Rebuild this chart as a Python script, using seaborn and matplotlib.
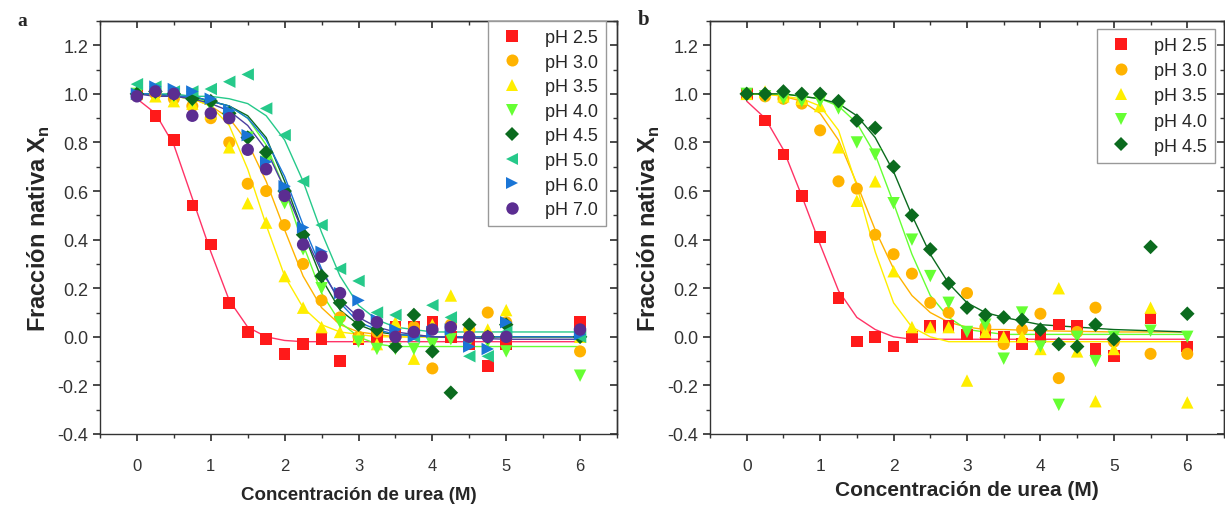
import numpy as np
import pandas as pd
import matplotlib
matplotlib.use('Agg')
import matplotlib.pyplot as plt
from matplotlib.ticker import MultipleLocator, FormatStrFormatter
import seaborn as sns

# urea concentrations (M) of the measured points
urea_a = [0, 0.25, 0.5, 0.75, 1.0, 1.25, 1.5, 1.75, 2.0, 2.25, 2.5, 2.75, 3.0,
          3.25, 3.5, 3.75, 4.0, 4.25, 4.5, 4.75, 5.0, 6.0]
urea_b = [0, 0.25, 0.5, 0.75, 1.0, 1.25, 1.5, 1.75, 2.0, 2.25, 2.5, 2.75, 3.0,
          3.25, 3.5, 3.75, 4.0, 4.25, 4.5, 4.75, 5.0, 5.5, 6.0]
# x grid of the fitted curves
urea_fit = [0, 0.25, 0.5, 0.75, 1.0, 1.25, 1.5, 1.75, 2.0, 2.25, 2.5, 2.75, 3.0,
            3.25, 3.5, 4.0, 5.0, 6.0]

labels_a = ['pH 2.5', 'pH 3.0', 'pH 3.5', 'pH 4.0', 'pH 4.5', 'pH 5.0', 'pH 6.0', 'pH 7.0']
labels_b = ['pH 2.5', 'pH 3.0', 'pH 3.5', 'pH 4.0', 'pH 4.5']

# panel a, fraccion nativa
a_ph25 = [1.0, 0.91, 0.81, 0.54, 0.38, 0.14, 0.02, -0.01, -0.07, -0.03, -0.01, -0.10, -0.01, 0.0, 0.04, 0.04, 0.06, 0.0, -0.03, -0.12, -0.03, 0.06]
a_ph30 = [1.0, 1.0, 0.98, 0.95, 0.90, 0.80, 0.63, 0.60, 0.46, 0.30, 0.15, 0.08, 0.0, 0.02, 0.0, 0.04, -0.13, 0.05, 0.03, 0.10, 0.06, -0.06]
a_ph35 = [1.0, 0.99, 0.97, 0.96, 0.92, 0.78, 0.55, 0.47, 0.25, 0.12, 0.04, 0.02, 0.0, -0.03, 0.06, -0.09, 0.05, 0.17, 0.05, 0.03, 0.11, 0.0]
a_ph40 = [1.0, 1.0, 0.99, 0.97, 0.95, 0.90, 0.82, 0.72, 0.55, 0.36, 0.20, 0.06, -0.02, -0.05, -0.05, -0.05, -0.03, -0.01, -0.02, -0.02, -0.06, -0.16]
a_ph45 = [1.0, 1.01, 1.0, 0.98, 0.97, 0.92, 0.82, 0.76, 0.60, 0.42, 0.25, 0.14, 0.05, 0.03, -0.04, 0.09, -0.06, -0.23, 0.05, 0.0, 0.05, 0.0]
a_ph50 = [1.04, 1.03, 1.01, 1.01, 1.02, 1.05, 1.08, 0.94, 0.83, 0.64, 0.46, 0.28, 0.23, 0.10, 0.09, 0.0, 0.13, 0.08, -0.08, -0.08, 0.02, 0.0]
a_ph60 = [1.0, 1.03, 1.02, 1.01, 0.98, 0.93, 0.83, 0.72, 0.62, 0.45, 0.35, 0.18, 0.15, 0.07, 0.03, 0.0, 0.02, 0.03, -0.04, -0.05, 0.06, 0.01]
a_ph70 = [0.99, 1.01, 1.0, 0.91, 0.92, 0.90, 0.77, 0.69, 0.58, 0.38, 0.33, 0.18, 0.09, 0.06, 0.0, 0.02, 0.03, 0.04, 0.0, 0.0, 0.0, 0.03]

# panel a, curvas ajustadas
fit_a_ph25 = [0.98, 0.92, 0.79, 0.57, 0.35, 0.15, 0.04, 0.0, -0.015, -0.02, -0.02, -0.02, -0.02, -0.02, -0.02, -0.02, -0.02, -0.02]
fit_a_ph30 = [1.0, 1.0, 0.99, 0.98, 0.95, 0.90, 0.80, 0.64, 0.44, 0.25, 0.12, 0.05, 0.02, 0.01, 0.0, 0.0, 0.0, 0.0]
fit_a_ph35 = [1.0, 1.0, 0.99, 0.98, 0.95, 0.87, 0.69, 0.46, 0.25, 0.12, 0.05, 0.02, 0.01, 0.0, 0.0, 0.0, 0.0, 0.0]
fit_a_ph40 = [1.0, 1.0, 0.99, 0.98, 0.97, 0.95, 0.90, 0.79, 0.61, 0.38, 0.18, 0.06, 0.0, -0.03, -0.04, -0.04, -0.04, -0.04]
fit_a_ph45 = [1.0, 1.0, 0.99, 0.99, 0.97, 0.95, 0.91, 0.82, 0.64, 0.43, 0.24, 0.11, 0.05, 0.02, 0.01, 0.0, 0.0, 0.0]
fit_a_ph50 = [1.0, 1.0, 1.0, 0.99, 0.99, 0.98, 0.96, 0.91, 0.81, 0.64, 0.43, 0.25, 0.13, 0.07, 0.04, 0.02, 0.02, 0.02]
fit_a_ph60 = [1.0, 1.0, 0.99, 0.99, 0.97, 0.95, 0.90, 0.81, 0.66, 0.46, 0.28, 0.14, 0.06, 0.03, 0.01, 0.0, 0.0, 0.0]
fit_a_ph70 = [1.0, 0.99, 0.99, 0.98, 0.96, 0.93, 0.87, 0.77, 0.61, 0.43, 0.27, 0.15, 0.08, 0.04, 0.02, 0.0, -0.01, -0.01]

# panel b
b_ph25 = [1.0, 0.89, 0.75, 0.58, 0.41, 0.16, -0.02, 0.0, -0.04, 0.0, 0.045, 0.045, 0.01, 0.01, 0.0, -0.03, 0.0, 0.05, 0.045, -0.05, -0.08, 0.075, -0.04]
b_ph30 = [1.0, 0.99, 0.98, 0.96, 0.85, 0.64, 0.61, 0.42, 0.34, 0.26, 0.14, 0.10, 0.18, 0.04, -0.03, 0.03, 0.095, -0.17, 0.02, 0.12, -0.02, -0.07, -0.07]
b_ph35 = [1.0, 1.01, 0.99, 0.98, 0.95, 0.78, 0.56, 0.64, 0.27, 0.04, 0.04, 0.04, -0.18, 0.02, 0.0, 0.0, -0.05, 0.20, -0.06, -0.265, -0.05, 0.12, -0.27]
b_ph40 = [1.0, 0.99, 0.98, 0.97, 0.97, 0.94, 0.80, 0.75, 0.55, 0.40, 0.25, 0.14, 0.02, 0.05, -0.09, 0.10, -0.04, -0.28, 0.0, -0.10, 0.0, 0.025, 0.0]
b_ph45 = [1.0, 1.0, 1.01, 1.0, 1.0, 0.97, 0.89, 0.86, 0.70, 0.50, 0.36, 0.22, 0.12, 0.09, 0.08, 0.07, 0.03, -0.03, -0.04, 0.05, -0.01, 0.37, 0.095]

fit_b_ph25 = [0.97, 0.90, 0.77, 0.58, 0.38, 0.19, 0.08, 0.03, 0.0, -0.01, -0.01, -0.01, -0.01, -0.01, -0.01, -0.01, -0.01, -0.01]
fit_b_ph30 = [1.0, 1.0, 0.99, 0.97, 0.92, 0.81, 0.63, 0.44, 0.28, 0.17, 0.10, 0.06, 0.04, 0.03, 0.03, 0.025, 0.02, 0.02]
fit_b_ph35 = [1.0, 1.0, 0.99, 0.98, 0.95, 0.85, 0.62, 0.35, 0.14, 0.04, 0.0, -0.02, -0.02, -0.02, -0.02, -0.02, -0.02, -0.02]
fit_b_ph40 = [1.0, 1.0, 1.0, 0.99, 0.98, 0.95, 0.88, 0.75, 0.55, 0.34, 0.17, 0.08, 0.03, 0.02, 0.01, 0.01, 0.01, 0.01]
fit_b_ph45 = [1.0, 1.0, 1.0, 0.99, 0.98, 0.96, 0.91, 0.82, 0.68, 0.50, 0.34, 0.22, 0.14, 0.10, 0.08, 0.05, 0.03, 0.02]

colors = {'pH 2.5': '#ff1a1a', 'pH 3.0': '#ffb300', 'pH 3.5': '#ffee00',
          'pH 4.0': '#66ff33', 'pH 4.5': '#0b6b1e', 'pH 5.0': '#26c98a',
          'pH 6.0': '#1a75d6', 'pH 7.0': '#5b2d91'}
line_colors = dict(colors, **{'pH 2.5': '#ff3366', 'pH 7.0': '#4a3fa0'})
markers = {'pH 2.5': 's', 'pH 3.0': 'o', 'pH 3.5': '^', 'pH 4.0': 'v',
           'pH 4.5': 'D', 'pH 5.0': '<', 'pH 6.0': '>', 'pH 7.0': 'o'}
sizes = {'pH 2.5': 70, 'pH 3.0': 75, 'pH 3.5': 80, 'pH 4.0': 80,
         'pH 4.5': 55, 'pH 5.0': 80, 'pH 6.0': 80, 'pH 7.0': 80}


def long_table(x, labels, series):
    rows = []
    for lab, ys in zip(labels, series):
        for xv, yv in zip(x, ys):
            rows.append((lab, xv, yv))
    return pd.DataFrame(rows, columns=['pH', 'urea', 'xn'])


pts_a = long_table(urea_a, labels_a, [a_ph25, a_ph30, a_ph35, a_ph40, a_ph45, a_ph50, a_ph60, a_ph70])
fit_a = long_table(urea_fit, labels_a, [fit_a_ph25, fit_a_ph30, fit_a_ph35, fit_a_ph40,
                                        fit_a_ph45, fit_a_ph50, fit_a_ph60, fit_a_ph70])
pts_b = long_table(urea_b, labels_b, [b_ph25, b_ph30, b_ph35, b_ph40, b_ph45])
fit_b = long_table(urea_fit, labels_b, [fit_b_ph25, fit_b_ph30, fit_b_ph35, fit_b_ph40, fit_b_ph45])

sns.set_theme(style='ticks')
plt.rcParams['font.family'] = ['Liberation Sans', 'DejaVu Sans']
plt.rcParams['axes.edgecolor'] = '#333333'
plt.rcParams['axes.linewidth'] = 1.0

fig = plt.figure(figsize=(12.25, 5.06), dpi=100)
ax_a = fig.add_axes([100 / 1225, 71 / 506, 517 / 1225, 413 / 506])
ax_b = fig.add_axes([710 / 1225, 71 / 506, 514 / 1225, 413 / 506])


def draw_panel(ax, pts, fit, labels, xfs, xpad, tfs, leg_xy, leg_fs, leg_sp):
    sns.lineplot(data=fit, x='urea', y='xn', hue='pH', hue_order=labels,
                 palette=line_colors, lw=1.0, legend=False, ax=ax, zorder=2)
    sns.scatterplot(data=pts, x='urea', y='xn', hue='pH', style='pH', size='pH',
                    hue_order=labels, style_order=labels, size_order=labels,
                    palette=colors, markers=markers, sizes=sizes,
                    linewidth=0, ax=ax, zorder=3)
    ax.set_xlim(-0.5, 6.5)
    ax.set_ylim(-0.4, 1.3)
    ax.xaxis.set_major_locator(MultipleLocator(1))
    ax.xaxis.set_minor_locator(MultipleLocator(0.5))
    ax.yaxis.set_major_locator(MultipleLocator(0.2))
    ax.yaxis.set_minor_locator(MultipleLocator(0.1))
    ax.yaxis.set_major_formatter(FormatStrFormatter('%.1f'))
    ax.tick_params(which='both', direction='out', top=False, right=False,
                   colors='#333333', labelcolor='#333333')
    ax.tick_params(which='major', length=5)
    ax.tick_params(which='minor', length=3)
    ax.tick_params(axis='x', labelsize=tfs, pad=12)
    ax.tick_params(axis='y', labelsize=13)
    # inward ticks on top and right frame
    sx = ax.secondary_xaxis('top')
    sx.xaxis.set_major_locator(MultipleLocator(1))
    sx.xaxis.set_minor_locator(MultipleLocator(0.5))
    sx.tick_params(which='both', direction='in', labeltop=False, colors='#333333')
    sx.tick_params(which='major', length=5)
    sx.tick_params(which='minor', length=3)
    sy = ax.secondary_yaxis('right')
    sy.yaxis.set_major_locator(MultipleLocator(0.2))
    sy.yaxis.set_minor_locator(MultipleLocator(0.1))
    sy.tick_params(which='both', direction='in', labelright=False, colors='#333333')
    sy.tick_params(which='major', length=5)
    sy.tick_params(which='minor', length=3)

    ax.set_xlabel('Concentración de urea (M)', fontsize=xfs, fontweight='bold', labelpad=xpad)
    ax.set_ylabel(r'Fracción nativa X$_\mathregular{n}$', fontsize=17, fontweight='bold', labelpad=4)
    sns.move_legend(ax, 'upper left', bbox_to_anchor=leg_xy, title=None,
                    frameon=True, fancybox=False, fontsize=leg_fs,
                    labelspacing=leg_sp, handletextpad=0.9, borderpad=0.45,
                    borderaxespad=0, handlelength=1.8, edgecolor='#999999',
                    framealpha=1)


draw_panel(ax_a, pts_a, fit_a, labels_a, 13.5, 10, 12, ((488 - 100) / 517, (435 - 22) / 413), 13, 0.42)
draw_panel(ax_b, pts_b, fit_b, labels_b, 15, 5, 12.5, ((1097 - 710) / 514, (435 - 30) / 413), 13, 0.45)

fig.text(22 / 1225, 1 - 22 / 506, 'a', family=['Liberation Serif', 'DejaVu Serif'],
         fontweight='bold', fontsize=14, va='center', ha='center')
fig.text(644 / 1225, 1 - 20 / 506, 'b', family=['Liberation Serif', 'DejaVu Serif'],
         fontweight='bold', fontsize=15, va='center', ha='center')

fig.savefig('out.png', dpi=100, facecolor='white')
